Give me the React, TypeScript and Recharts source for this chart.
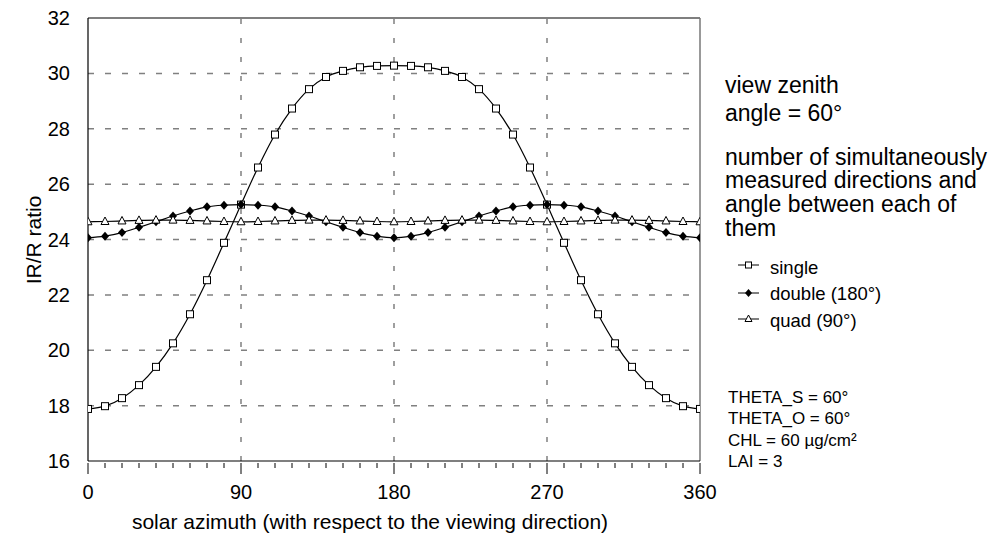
import React from "react";
import { LineChart, Line, XAxis, YAxis, ReferenceLine } from "recharts";

const azimuth = [
  0, 10, 20, 30, 40, 50, 60, 70, 80, 90, 100, 110, 120, 130, 140, 150, 160, 170, 180,
  190, 200, 210, 220, 230, 240, 250, 260, 270, 280, 290, 300, 310, 320, 330, 340, 350, 360,
];
const single = [
  17.88, 17.98, 18.27, 18.74, 19.4, 20.25, 21.3, 22.53, 23.88, 25.26, 26.6, 27.79, 28.73, 29.43, 29.87, 30.09, 30.22, 30.27, 30.28,
  30.27, 30.22, 30.09, 29.87, 29.43, 28.73, 27.79, 26.6, 25.26, 23.88, 22.53, 21.3, 20.25, 19.4, 18.74, 18.27, 17.98, 17.88,
];
const double = [
  24.06, 24.12, 24.25, 24.44, 24.64, 24.85, 25.03, 25.18, 25.24, 25.26, 25.24, 25.18, 25.03, 24.85, 24.64, 24.44, 24.25, 24.12, 24.06,
  24.12, 24.25, 24.44, 24.64, 24.85, 25.03, 25.18, 25.24, 25.26, 25.24, 25.18, 25.03, 24.85, 24.64, 24.44, 24.25, 24.12, 24.06,
];
const quad = [
  24.64, 24.65, 24.67, 24.69, 24.7, 24.7, 24.69, 24.67, 24.65, 24.64, 24.65, 24.67, 24.69, 24.7, 24.7, 24.69, 24.67, 24.65, 24.64,
  24.65, 24.67, 24.69, 24.7, 24.7, 24.69, 24.67, 24.65, 24.64, 24.65, 24.67, 24.69, 24.7, 24.7, 24.69, 24.67, 24.65, 24.64,
];

const xLabels = [0, 90, 180, 270, 360];
const xGrid = [90, 180, 270];
const yTicks = [16, 18, 20, 22, 24, 26, 28, 30, 32];
const yGrid = [18, 20, 22, 24, 26, 28, 30];

const data = azimuth.map((a, i) => ({ az: a, single: single[i], double: double[i], quad: quad[i] }));

const FONT = "Arial, 'Liberation Sans', sans-serif";

function XTick(props: any) {
  const { x, y, payload } = props;
  const major = xLabels.includes(payload.value);
  return (
    <g>
      <line x1={x} x2={x} y1={y} y2={y + (major ? 11 : 5)} stroke="#000" strokeWidth={1} />
      {major && (
        <text x={x} y={y + 36} textAnchor="middle" fontSize={20} fill="#000" fontFamily={FONT}>
          {payload.value}
        </text>
      )}
    </g>
  );
}

function SquareDot(p: any) {
  return <rect key={`s${p.index}`} x={p.cx - 3.5} y={p.cy - 3.5} width={7} height={7} fill="#fff" stroke="#000" strokeWidth={1} />;
}
function DiamondDot(p: any) {
  const { cx, cy } = p;
  return <path key={`d${p.index}`} d={`M${cx},${cy - 4.5}L${cx + 4},${cy}L${cx},${cy + 4.5}L${cx - 4},${cy}Z`} fill="#000" />;
}
function TriangleDot(p: any) {
  const { cx, cy } = p;
  return (
    <path key={`t${p.index}`} d={`M${cx},${cy - 4.5}L${cx + 4},${cy + 3}L${cx - 4},${cy + 3}Z`} fill="#fff" stroke="#000" strokeWidth={1} />
  );
}

const legendItems = [
  { name: "single", y: 265, base: 274, marker: "square" },
  { name: "double (180°)", y: 293, base: 300, marker: "diamond" },
  { name: "quad (90°)", y: 319, base: 327, marker: "triangle" },
];

function LegendMarker({ kind, cx, cy }: { kind: string; cx: number; cy: number }) {
  if (kind === "square") return <rect x={cx - 3} y={cy - 3} width={6} height={6} fill="#fff" stroke="#000" />;
  if (kind === "diamond") return <path d={`M${cx},${cy - 4}L${cx + 3.5},${cy}L${cx},${cy + 4}L${cx - 3.5},${cy}Z`} fill="#000" />;
  return <path d={`M${cx},${cy - 4}L${cx + 3.5},${cy + 2.5}L${cx - 3.5},${cy + 2.5}Z`} fill="#fff" stroke="#000" />;
}

export default function App() {
  return (
    <div style={{ position: "absolute", left: 0, top: 0, width: 1004, height: 533, background: "#fff", fontFamily: FONT }}>
      <LineChart width={1004} height={533} data={data} margin={{ top: 18, right: 304, left: 8, bottom: 0 }}>
        <XAxis
          dataKey="az"
          type="number"
          domain={[0, 360]}
          ticks={azimuth}
          interval={0}
          height={72}
          tickSize={0}
          tickLine={false}
          tick={<XTick />}
          axisLine={{ stroke: "#000", strokeWidth: 1.2 }}
          allowDataOverflow
        />
        <YAxis
          type="number"
          domain={[16, 32]}
          ticks={yTicks}
          width={80}
          tickSize={0}
          tickMargin={18}
          tickLine={false}
          axisLine={{ stroke: "#000", strokeWidth: 1.2 }}
          tick={{ fill: "#000", fontSize: 20, fontFamily: FONT }}
        />
        {yGrid.map((v) => (
          <ReferenceLine key={`hy${v}`} y={v} stroke="#808080" strokeWidth={1.5} strokeDasharray="6 11" />
        ))}
        {xGrid.map((v) => (
          <ReferenceLine key={`vx${v}`} x={v} stroke="#808080" strokeWidth={1.5} strokeDasharray="5 14" />
        ))}
        <ReferenceLine y={32} stroke="#000" strokeWidth={1.2} />
        <ReferenceLine x={360} stroke="#777" strokeWidth={1.5} />
        <Line type="monotone" dataKey="single" stroke="#000" strokeWidth={1.2} dot={SquareDot} activeDot={false} isAnimationActive={false} />
        <Line type="monotone" dataKey="double" stroke="#000" strokeWidth={1.2} dot={DiamondDot} activeDot={false} isAnimationActive={false} />
        <Line type="monotone" dataKey="quad" stroke="#000" strokeWidth={1.2} dot={TriangleDot} activeDot={false} isAnimationActive={false} />
      </LineChart>
      <svg width={1004} height={533} style={{ position: "absolute", left: 0, top: 0, pointerEvents: "none" }} fontFamily={FONT} fill="#000">
        <text x={33} y={240} transform="rotate(-90 33 240)" textAnchor="middle" dominantBaseline="central" fontSize={21}>
          IR/R ratio
        </text>
        <text x={370} y={529} textAnchor="middle" fontSize={21}>
          solar azimuth (with respect to the viewing direction)
        </text>
        <text x={725} y={92.5} fontSize={23}>view zenith</text>
        <text x={725} y={121} fontSize={23}>angle = 60°</text>
        <text x={725} y={165} fontSize={23}>number of simultaneously</text>
        <text x={725} y={188} fontSize={23}>measured directions and</text>
        <text x={725} y={212} fontSize={23}>angle between each of</text>
        <text x={725} y={236} fontSize={23}>them</text>
        {legendItems.map((it) => (
          <g key={it.name}>
            <line x1={738} x2={759} y1={it.y} y2={it.y} stroke="#000" strokeWidth={1} />
            <LegendMarker kind={it.marker} cx={748.5} cy={it.y} />
            <text x={770} y={it.base} fontSize={18.5}>{it.name}</text>
          </g>
        ))}
        <text x={728} y={402.5} fontSize={17}>THETA_S = 60°</text>
        <text x={728} y={424} fontSize={17}>THETA_O = 60°</text>
        <text x={728} y={446} fontSize={17}>CHL = 60 µg/cm²</text>
        <text x={728} y={467} fontSize={17}>LAI = 3</text>
      </svg>
    </div>
  );
}
